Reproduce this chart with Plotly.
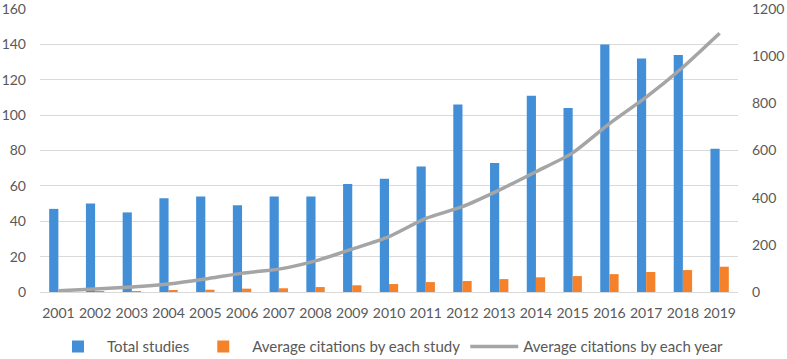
import plotly.graph_objects as go

years = [str(y) for y in range(2001, 2020)]
total_studies = [47, 50, 45, 53, 54, 49, 54, 54, 61, 64, 71, 106, 73, 111, 104, 140, 132, 134, 81]
avg_cit_study = [0.1, 0.2, 0.3, 0.7, 1.3, 1.9, 2.1, 2.8, 3.8, 4.5, 5.6, 6.2, 7.3, 8.3, 9.0, 10.1, 11.3, 12.4, 14.3]
avg_cit_year = [5, 13, 21, 34, 55, 80, 97, 132, 182, 235, 312, 362, 432, 510, 590, 714, 826, 953, 1097]

BLUE = "#428fd8"
ORANGE = "#f5822a"
GRAY = "#a5a5a5"
TXT = "#595959"
FONT = "Lato"
FS = 14

fig = go.Figure()
fig.add_trace(go.Bar(x=years, y=total_studies, name="Total studies",
                     marker=dict(color=BLUE, line=dict(width=0))))
fig.add_trace(go.Bar(x=years, y=avg_cit_study, name="Average citations by each study",
                     marker=dict(color=ORANGE, line=dict(width=0))))
fig.add_trace(go.Scatter(x=years, y=avg_cit_year, name="Average citations by each year",
                         yaxis="y2", mode="lines",
                         line=dict(color=GRAY, width=3.5, shape="spline", smoothing=0.6)))

fig.update_layout(
    width=787, height=359,
    margin=dict(l=40, r=49, t=9, b=67, autoexpand=False),
    paper_bgcolor="white", plot_bgcolor="white",
    font=dict(family=FONT, size=FS, color=TXT),
    barmode="group", bargap=0.5, bargroupgap=0,
    showlegend=True,
    legend=dict(orientation="h", x=0.5, xanchor="center", y=-0.135, yanchor="top",
                font=dict(family=FONT, size=15, color=TXT),
                itemwidth=48, traceorder="normal"),
    xaxis=dict(type="category", showgrid=False, showline=True, linecolor="#d9d9d9",
               linewidth=1, ticks="", automargin=False, ticklabelstandoff=8, tickangle=0,
               tickfont=dict(family=FONT, size=FS, color=TXT)),
    yaxis=dict(range=[0, 160], dtick=20, showgrid=True, gridcolor="#d9d9d9", gridwidth=1,
               zeroline=False, showline=False, ticks="", ticklabelstandoff=13, automargin=False,
               ticklabeloverflow="allow",
               tickfont=dict(family=FONT, size=FS, color=TXT)),
    yaxis2=dict(range=[0, 1200], dtick=200, overlaying="y", side="right", showgrid=False,
                zeroline=False, showline=False, ticks="", ticklabelstandoff=13, automargin=False,
                ticklabeloverflow="allow",
                tickfont=dict(family=FONT, size=FS, color=TXT)),
)

fig.write_html("out.html", config={"displayModeBar": False},
               post_script="document.body.style.margin='0';document.body.style.padding='0';")
